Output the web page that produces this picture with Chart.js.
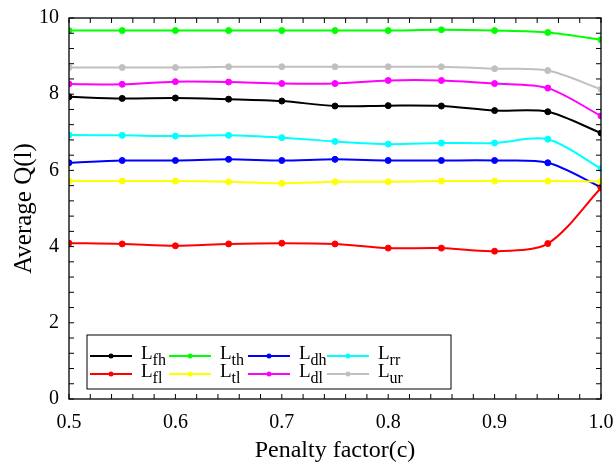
<!DOCTYPE html>
<html>
<head>
<meta charset="utf-8">
<script src="https://cdn.jsdelivr.net/npm/chart.js@4"></script>
<style>
  body { margin: 0; background: #fff; }
</style>
</head>
<body>
<canvas id="qChart" width="616" height="463"></canvas>
<script>
// penalty factor values (x axis)
const penalty = [0.5, 0.55, 0.6, 0.65, 0.7, 0.75, 0.8, 0.85, 0.9, 0.95, 1.0];

// average Q(l) per series
const Lfh = [7.93, 7.89, 7.90, 7.87, 7.82, 7.69, 7.70, 7.69, 7.57, 7.54, 6.98];
const Lfl = [4.09, 4.07, 4.02, 4.07, 4.09, 4.07, 3.96, 3.96, 3.88, 4.08, 5.54];
const Lth = [9.67, 9.67, 9.67, 9.67, 9.67, 9.67, 9.67, 9.69, 9.67, 9.62, 9.43];
const Ltl = [5.72, 5.72, 5.72, 5.70, 5.66, 5.70, 5.70, 5.72, 5.72, 5.72, 5.71];
const Ldh = [6.20, 6.26, 6.26, 6.29, 6.26, 6.29, 6.26, 6.26, 6.26, 6.20, 5.56];
const Ldl = [8.27, 8.26, 8.33, 8.32, 8.28, 8.28, 8.36, 8.36, 8.28, 8.16, 7.43];
const Lrr = [6.93, 6.92, 6.90, 6.92, 6.86, 6.76, 6.69, 6.72, 6.72, 6.82, 6.05];
const Lur = [8.70, 8.70, 8.70, 8.72, 8.72, 8.72, 8.72, 8.72, 8.67, 8.62, 8.13];

const xTicks = [0.5, 0.6, 0.7, 0.8, 0.9, 1.0];
const yTicks = [0, 2, 4, 6, 8, 10];

// series order follows the legend (two rows, filled column by column)
const series = [
    { sub: 'fh', data: Lfh, color: '#000000' },
    { sub: 'fl', data: Lfl, color: '#ff0000' },
    { sub: 'th', data: Lth, color: '#00ff00' },
    { sub: 'tl', data: Ltl, color: '#ffff00' },
    { sub: 'dh', data: Ldh, color: '#0000ff' },
    { sub: 'dl', data: Ldl, color: '#ff00ff' },
    { sub: 'rr', data: Lrr, color: '#00ffff' },
    { sub: 'ur', data: Lur, color: '#c0c0c0' }
];

const serif = "'Liberation Serif', 'DejaVu Serif', serif";

// frame and inward ticks on all four sides
const frameTicks = {
    id: 'frameTicks',
    afterDatasetsDraw(chart) {
        const ctx = chart.ctx;
        const a = chart.chartArea;
        const xs = chart.scales.x, ys = chart.scales.y;
        const len = 5;
        ctx.save();
        ctx.strokeStyle = '#000';
        ctx.lineWidth = 1.3;
        ctx.strokeRect(a.left, a.top, a.right - a.left, a.bottom - a.top);
        ctx.lineWidth = 1;
        ctx.beginPath();
        for (let i = 0; i <= 25; i++) {
            const px = xs.getPixelForValue(0.5 + i * 0.02);
            ctx.moveTo(px, a.bottom); ctx.lineTo(px, a.bottom - len);
            ctx.moveTo(px, a.top); ctx.lineTo(px, a.top + len);
        }
        for (let i = 0; i <= 25; i++) {
            const py = ys.getPixelForValue(i * 0.4);
            ctx.moveTo(a.left, py); ctx.lineTo(a.left + len, py);
            ctx.moveTo(a.right, py); ctx.lineTo(a.right - len, py);
        }
        ctx.stroke();
        ctx.restore();
    }
};

// legend box with subscript labels
const subLegend = {
    id: 'subLegend',
    afterDraw(chart) {
        const ctx = chart.ctx;
        const a = chart.chartArea;
        const bx = a.left + 18, by = 335, bw = 364, bh = 54;
        ctx.save();
        ctx.fillStyle = '#fff';
        ctx.fillRect(bx, by, bw, bh);
        ctx.strokeStyle = '#000';
        ctx.lineWidth = 1;
        ctx.strokeRect(bx, by, bw, bh);
        series.forEach((s, i) => {
            const col = Math.floor(i / 2), row = i % 2;
            const x0 = 90 + col * 79;
            const y = row === 0 ? 356 : 374;
            ctx.strokeStyle = s.color;
            ctx.lineWidth = 2;
            ctx.beginPath();
            ctx.moveTo(x0, y); ctx.lineTo(x0 + 42, y);
            ctx.stroke();
            ctx.fillStyle = s.color;
            ctx.beginPath();
            ctx.arc(x0 + 21, y, 2.5, 0, Math.PI * 2);
            ctx.fill();
            ctx.fillStyle = '#000';
            ctx.textBaseline = 'alphabetic';
            ctx.font = '19px ' + serif;
            ctx.fillText('L', x0 + 51, y + 3);
            const w = ctx.measureText('L').width;
            ctx.font = '16px ' + serif;
            ctx.fillText(s.sub, x0 + 51 + w, y + 9);
        });
        ctx.restore();
    }
};

const ctx = document.getElementById('qChart').getContext('2d');
const qChart = new Chart(ctx, {
    type: 'line',
    data: {
        datasets: series.map(s => ({
            label: 'L' + s.sub,
            data: s.data.map((v, i) => ({ x: penalty[i], y: v })),
            borderColor: s.color,
            backgroundColor: s.color,
            borderWidth: 2,
            pointRadius: 3,
            pointHoverRadius: 3,
            pointBorderWidth: 1,
            tension: 0.3
        }))
    },
    options: {
        responsive: false,
        animation: false,
        layout: { padding: { left: 0, top: 18, right: 15, bottom: 0 } },
        plugins: {
            legend: { display: false },
            tooltip: { enabled: false }
        },
        scales: {
            x: {
                type: 'linear',
                min: 0.5,
                max: 1.0,
                afterFit: s => { s.height = 64; s.paddingLeft = 0; s.paddingRight = 0; },
                afterBuildTicks: s => { s.ticks = xTicks.map(v => ({ value: v })); },
                grid: { display: false, drawTicks: false },
                border: { display: false },
                ticks: {
                    padding: 12,
                    color: '#000',
                    font: { family: serif, size: 20 },
                    callback: v => v.toFixed(1)
                },
                title: {
                    display: true,
                    text: 'Penalty factor(c)',
                    color: '#000',
                    font: { family: serif, size: 24, lineHeight: 1.0 },
                    padding: { top: 8, bottom: 0 }
                }
            },
            y: {
                type: 'linear',
                min: 0,
                max: 10,
                afterFit: s => { s.width = 69; s.paddingTop = 0; s.paddingBottom = 0; },
                afterBuildTicks: s => { s.ticks = yTicks.map(v => ({ value: v })); },
                grid: { display: false, drawTicks: false },
                border: { display: false },
                ticks: {
                    padding: 10,
                    color: '#000',
                    font: { family: serif, size: 20 }
                },
                title: {
                    display: true,
                    text: 'Average Q(l)',
                    color: '#000',
                    font: { family: serif, size: 25, lineHeight: 1.0 },
                    padding: { top: 12, bottom: 0 }
                }
            }
        }
    },
    plugins: [frameTicks, subLegend]
});
</script>
</body>
</html>
